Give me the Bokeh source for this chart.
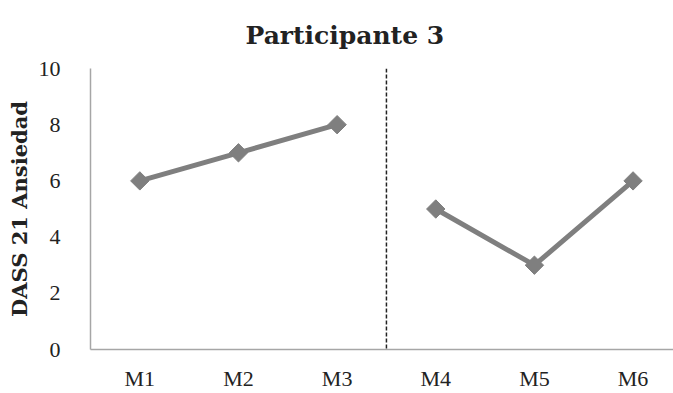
import math
from bokeh.plotting import figure
from bokeh.models import Span, FixedTicker, Range1d
from bokeh.embed import file_html
from bokeh.resources import INLINE

# Sessions and DASS-21 anxiety scores, split into two phases
sessions = ["M1", "M2", "M3", "M4", "M5", "M6"]
phase_a_sessions = ["M1", "M2", "M3"]
phase_a_scores = [6, 7, 8]
phase_b_sessions = ["M4", "M5", "M6"]
phase_b_scores = [5, 3, 6]
y_ticks = [0, 2, 4, 6, 8, 10]
chart_title = "Participante 3"

pos = {s: i + 1 for i, s in enumerate(sessions)}

FONT = "Liberation Serif"
TITLE_FONT = "DejaVu Serif"
GRAY = "#7f7f7f"

p = figure(width=673, height=393, output_backend="svg", toolbar_location=None,
           x_range=Range1d(0.5, 6.41), y_range=Range1d(0, 10),
           min_border_left=90, min_border_right=0, min_border_top=68,
           min_border_bottom=43, outline_line_color=None)

p.title.text = chart_title
p.title.text_font = TITLE_FONT
p.title.text_font_size = "25px"
p.title.text_font_style = "bold"
p.title.text_color = "#222222"
p.title.align = "left"
p.title.offset = 155
p.title.vertical_align = "top"
p.title.standoff = 34

p.xgrid.visible = False
p.ygrid.visible = False

p.xaxis.ticker = FixedTicker(ticks=[pos[s] for s in sessions])
p.xaxis.major_label_overrides = {pos[s]: s for s in sessions}
p.yaxis.ticker = FixedTicker(ticks=y_ticks)

for ax in (p.xaxis, p.yaxis):
    ax.axis_line_color = "#a6a6a6"
    ax.axis_line_width = 1.5
    ax.major_tick_line_color = None
    ax.minor_tick_line_color = None
    ax.major_label_text_font = FONT
    ax.major_label_text_font_size = "22px"
    ax.major_label_text_color = "#222222"

p.xaxis.major_label_standoff = 10
p.yaxis.major_label_standoff = 24
p.yaxis.axis_label = "DASS 21 Ansiedad"
p.yaxis.axis_label_text_font = TITLE_FONT
p.yaxis.axis_label_text_font_size = "21px"
p.yaxis.axis_label_text_font_style = "bold"
p.yaxis.axis_label_text_color = "#222222"
p.yaxis.axis_label_standoff = 4

# Phase change marker between M3 and M4
p.add_layout(Span(location=3.5, dimension="height", line_color="#222222",
                  line_width=1.5, line_dash="4 2"))

for xs, ys in ((phase_a_sessions, phase_a_scores), (phase_b_sessions, phase_b_scores)):
    x = [pos[s] for s in xs]
    p.line(x, ys, line_color=GRAY, line_width=5)
    p.scatter(x, ys, marker="square", angle=math.pi / 4, size=13,
              fill_color=GRAY, line_color=GRAY)

open("out.html", "w").write(file_html(p, INLINE))
